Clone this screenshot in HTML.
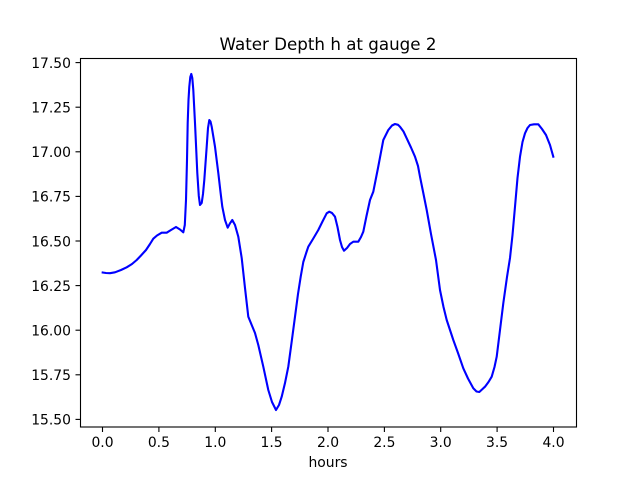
<!DOCTYPE html>
<html><head><meta charset="utf-8"><style>
html,body{margin:0;padding:0;background:#fff;}
svg{display:block;}
text{font-family:"DejaVu Sans","Liberation Sans",sans-serif;fill:#000;}
</style></head><body>
<svg width="640" height="480" viewBox="0 0 640 480" xmlns="http://www.w3.org/2000/svg">
<rect x="0" y="0" width="640" height="480" fill="#fff"/>
<polyline fill="none" stroke="#0000ff" stroke-width="2.1" stroke-linejoin="round" stroke-linecap="square" points="
102.7,272.5 106,273 110,273.2 115,272.3 121,270 126.7,267.3 132,264 136.7,260 141,255.5 146,250 150,244 153.3,238.7 157,235.5 161.7,232.7 166.7,232.7 171,230 176,227 180,229.5 183.3,232.3 184.8,225 186,200 187,160 187.7,123 188.5,100 189.3,86.7 190.3,77 191.3,74 192.3,78 193.3,90 195,123 197.3,173 198.8,196 200,205 201.7,203 203,194 204.3,180 206.7,146.7 208,128 209.3,120 210.5,121.5 211.7,126.7 215,146.7 218.3,173 220.5,192 222.3,206.7 225,220 227.7,227.7 230,223.3 232.3,220 235,225 238.3,236.7 241.7,258 245,288 248.3,316.7 251.7,325 255,333 258.3,345 263.3,366.7 268.3,390 272,402 276,410 279,405 281.7,396.7 285,383 288.3,366.7 291.5,343 295,316.7 298,294 300.7,276.7 303.3,262 306.5,252 308.3,246.7 313,239 318.3,230 322.5,221.5 326.7,213.3 329.3,211.7 332,213 335,216.7 337.5,227 340,240 342,247 344,250.7 347,248 350,244 353.3,241.7 358.3,241.7 361,237 363.3,231.7 366.5,216 370,200 373.3,191.7 378,168 383.3,140 388.3,130 392,125.5 395,124 398,124.8 400,126.7 403.5,131.5 406.7,138.3 411,147.5 415,156.7 418,166 420,176.7 423.3,193 426.7,210 431,234 436,260 440,290 443.5,307 446.7,320 450,330 453.3,340 458,353 463.3,368.3 468,378.5 473.3,388.3 476.5,391.5 479.3,392 482,389.5 485,386.7 488.5,382 491.7,376.7 494.5,367 496.7,356.7 500,330 503.3,303.3 507,277 510,258 512.5,235 515,206.7 517.5,178 520,156.7 522.5,142 525,133.3 527.5,128 530,125 534,124.3 538.3,124.3 542,129 546,135 550,145 553.3,156.7"/>
<rect x="80.5" y="58.5" width="496" height="368.5" fill="none" stroke="#000" stroke-width="1.1"/>
<g stroke="#000" stroke-width="1.1">
<line x1="102.5" y1="427" x2="102.5" y2="432"/>
<line x1="158.9" y1="427" x2="158.9" y2="432"/>
<line x1="215.3" y1="427" x2="215.3" y2="432"/>
<line x1="271.6" y1="427" x2="271.6" y2="432"/>
<line x1="328" y1="427" x2="328" y2="432"/>
<line x1="384.4" y1="427" x2="384.4" y2="432"/>
<line x1="440.7" y1="427" x2="440.7" y2="432"/>
<line x1="497.1" y1="427" x2="497.1" y2="432"/>
<line x1="553.5" y1="427" x2="553.5" y2="432"/>
<line x1="75.5" y1="62.6" x2="80.5" y2="62.6"/>
<line x1="75.5" y1="107.2" x2="80.5" y2="107.2"/>
<line x1="75.5" y1="151.8" x2="80.5" y2="151.8"/>
<line x1="75.5" y1="196.4" x2="80.5" y2="196.4"/>
<line x1="75.5" y1="241" x2="80.5" y2="241"/>
<line x1="75.5" y1="285.6" x2="80.5" y2="285.6"/>
<line x1="75.5" y1="330.2" x2="80.5" y2="330.2"/>
<line x1="75.5" y1="374.8" x2="80.5" y2="374.8"/>
<line x1="75.5" y1="419.4" x2="80.5" y2="419.4"/>
</g>
<g font-size="13.9" text-anchor="middle">
<text x="102.5" y="447">0.0</text>
<text x="158.9" y="447">0.5</text>
<text x="215.3" y="447">1.0</text>
<text x="271.6" y="447">1.5</text>
<text x="328" y="447">2.0</text>
<text x="384.4" y="447">2.5</text>
<text x="440.7" y="447">3.0</text>
<text x="497.1" y="447">3.5</text>
<text x="553.5" y="447">4.0</text>
</g>
<g font-size="13.9" text-anchor="end">
<text x="71" y="67.9">17.50</text>
<text x="71" y="112.5">17.25</text>
<text x="71" y="157.1">17.00</text>
<text x="71" y="201.7">16.75</text>
<text x="71" y="246.3">16.50</text>
<text x="71" y="290.9">16.25</text>
<text x="71" y="335.5">16.00</text>
<text x="71" y="380.1">15.75</text>
<text x="71" y="424.7">15.50</text>
</g>
<text x="328" y="467" font-size="13.9" text-anchor="middle">hours</text>
<text x="328" y="50" font-size="16.7" text-anchor="middle">Water Depth h at gauge 2</text>
</svg>
</body></html>
